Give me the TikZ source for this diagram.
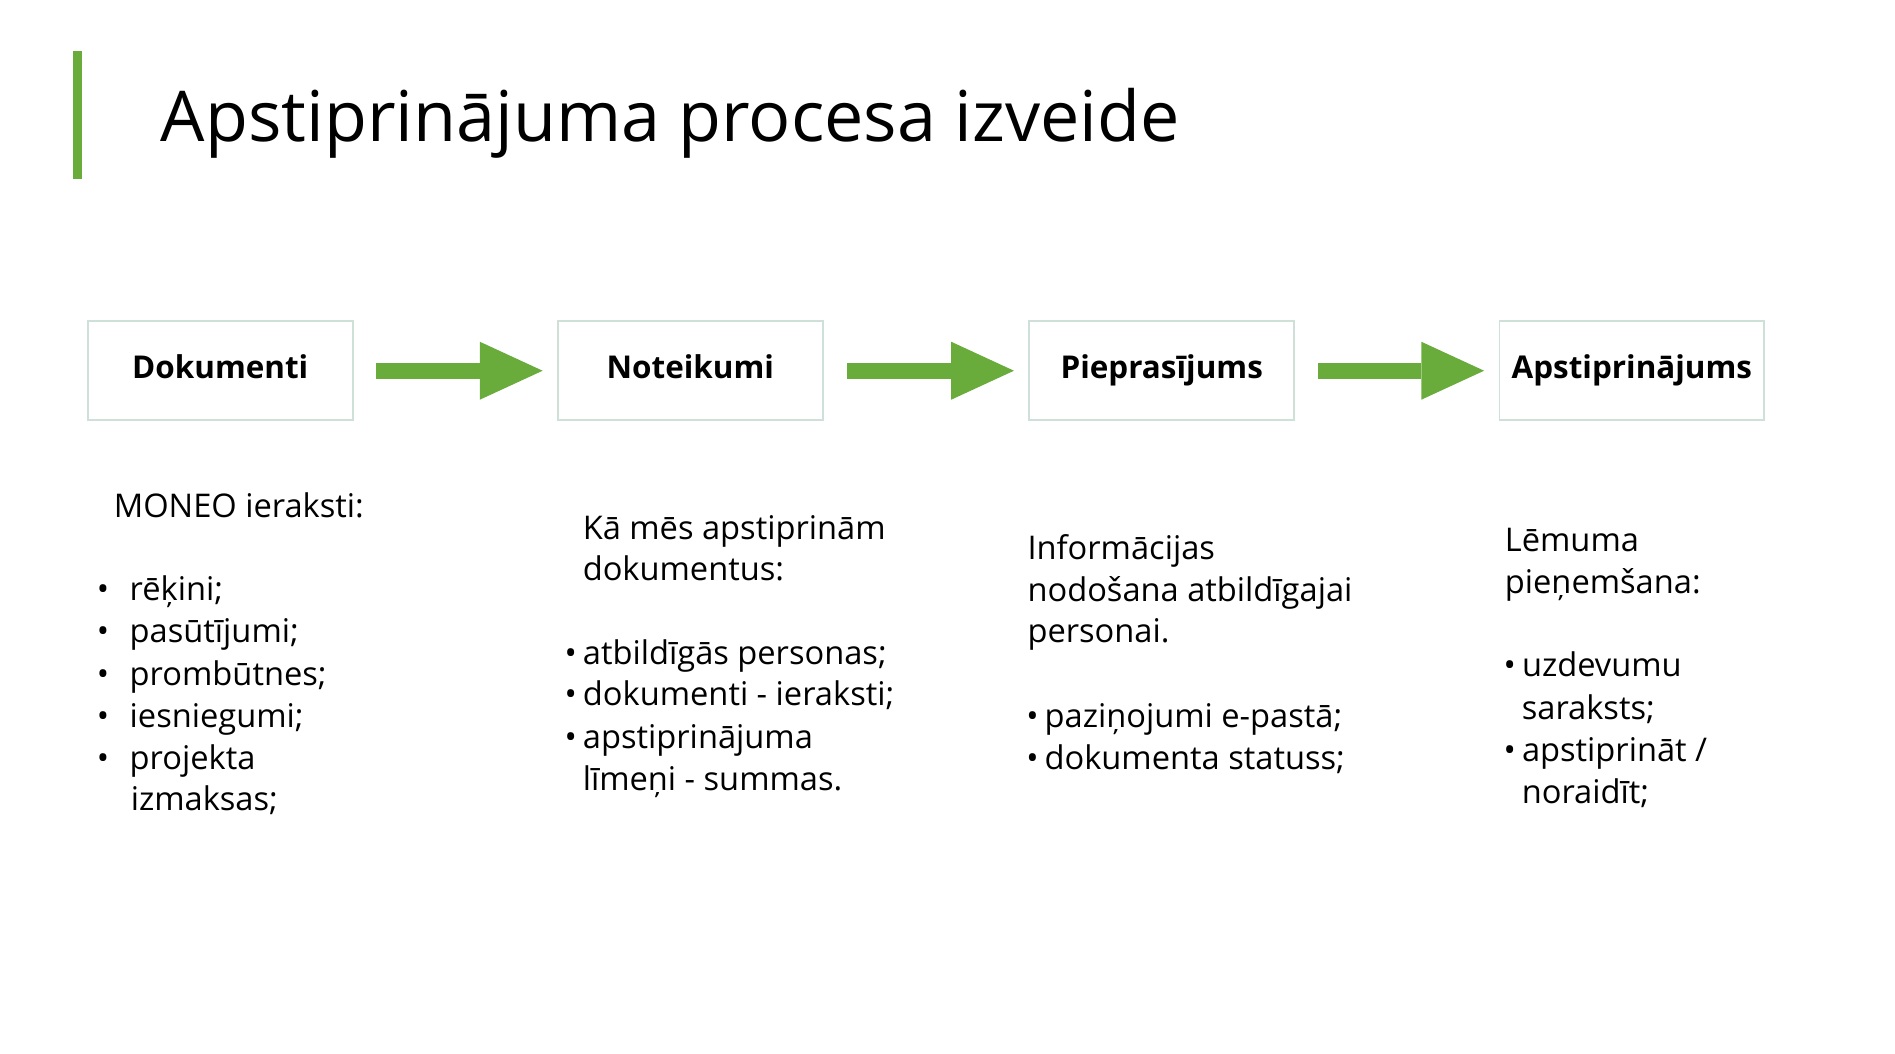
\documentclass[tikz,border=0pt]{standalone}
\usepackage{fontspec}
\setmainfont{Open Sans}
\definecolor{gr}{HTML}{6AAC3C}
\definecolor{bx}{HTML}{CFE0D8}
\begin{document}
\begin{tikzpicture}[x=1pt,y=-1pt,
  stepbox/.style={draw=bx,line width=1.5pt,minimum width=219pt,minimum height=82pt,anchor=north west,text height=19pt,text depth=6pt,font=\fontsize{26}{32}\selectfont\bfseries},
  body/.style={anchor=base west,font=\fontsize{27}{35}\selectfont,inner sep=0pt},
  bul/.style={anchor=base west,font=\fontsize{27}{35}\selectfont,inner sep=0pt}]
\useasboundingbox (0,0) rectangle (1568,872);
\fill[gr] (60,42) rectangle (68,148);
\node[anchor=base west,inner sep=0pt,font=\fontsize{58}{60}\selectfont] (title) at (133,117) {Apstiprinājuma procesa izveide};
\node[stepbox] (b1) at (72,265) {Dokumenti};
\node[stepbox] (b2) at (461,265) {Noteikumi};
\node[stepbox] (b3) at (851,265) {Pieprasījums};
\node[stepbox] (b4) at (1240,265) {Apstiprinājums};
\foreach \a/\b in {b1/b2,b2/b3,b3/b4}{
  \path (\a.east) ++(19,0) coordinate (s) (\b.west) ++(-12,0) coordinate (e);
  \fill[gr] (s) ++(0,-6.5) rectangle ([xshift=-52,yshift=-6.5]e);
  \fill[gr] ([xshift=-52,yshift=-24]e) -- (e) -- ([xshift=-52,yshift=24]e) -- cycle;
}
% column 1
\node[body] (c1h) at (94,428) {MONEO ieraksti:};
\foreach \t [count=\i] in {rēķini;,pasūtījumi;,prombūtnes;,iesniegumi;,projekta}{
  \node[bul] (c1b\i) at (80,{488+35*(\i-1)+9}) {•\hspace{17pt}\t};}
\node[body] (c1x) at (108,671) {izmaksas;};
% column 2
\node[body] (c2h) at (482,446) {Kā mēs apstiprinām};
\node[body] (c2h2) at (482,480) {dokumentus:};
\node[bul] (c2b1) at (467,550) {•\hspace{5pt}atbildīgās personas;};
\node[bul] (c2b2) at (467,584) {•\hspace{5pt}dokumenti - ieraksti;};
\node[bul] (c2b3) at (467,619) {•\hspace{5pt}apstiprinājuma};
\node[body] (c2x) at (482,654) {līmeņi - summas.};
% column 3
\node[body] (c3h) at (850,463) {Informācijas};
\node[body] (c3h2) at (850,498) {nodošana atbildīgajai};
\node[body] (c3h3) at (850,532) {personai.};
\node[bul] (c3b1) at (849,602) {•\hspace{5pt}paziņojumi e-pastā;};
\node[bul] (c3b2) at (849,637) {•\hspace{5pt}dokumenta statuss;};
% column 4
\node[body] (c4h) at (1245,456) {Lēmuma};
\node[body] (c4h2) at (1245,491) {pieņemšana:};
\node[bul] (c4b1) at (1244,560) {•\hspace{5pt}uzdevumu};
\node[body] (c4x1) at (1259,595) {saraksts;};
\node[bul] (c4b2) at (1244,630) {•\hspace{5pt}apstiprināt /};
\node[body] (c4x2) at (1259,665) {noraidīt;};
\end{tikzpicture}
\end{document}
